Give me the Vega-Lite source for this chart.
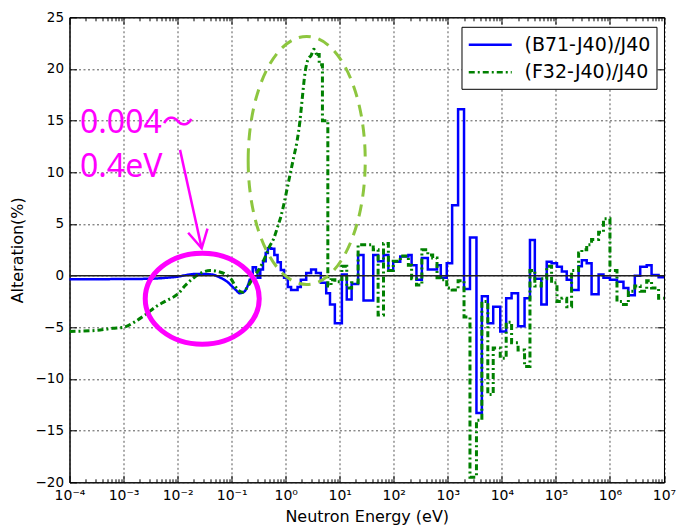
{
  "$schema": "https://vega.github.io/schema/vega-lite/v6.json",
  "width": 594.5,
  "height": 465,
  "autosize": {"type": "none"},
  "padding": {"left": 69.5, "top": 17.3, "right": 12, "bottom": 45},
  "background": "white",
  "config": {"font": "DejaVu Sans", "view": {"stroke": "black", "strokeWidth": 1}},
  "datasets": {
    "curves": [
      {"series": "(B71-J40)/J40", "E": 1e-4, "value": -0.35},
      {"series": "(B71-J40)/J40", "E": 1e-3, "value": -0.33},
      {"series": "(B71-J40)/J40", "E": 3.162e-3, "value": -0.3},
      {"series": "(B71-J40)/J40", "E": 6.31e-3, "value": -0.2},
      {"series": "(B71-J40)/J40", "E": 0.01, "value": -0.1},
      {"series": "(B71-J40)/J40", "E": 0.01413, "value": 0.05},
      {"series": "(B71-J40)/J40", "E": 0.01995, "value": 0.15},
      {"series": "(B71-J40)/J40", "E": 0.03162, "value": 0.15},
      {"series": "(B71-J40)/J40", "E": 0.04467, "value": 0.1},
      {"series": "(B71-J40)/J40", "E": 0.05623, "value": -0.1},
      {"series": "(B71-J40)/J40", "E": 0.06761, "value": -0.3},
      {"series": "(B71-J40)/J40", "E": 0.08318, "value": -0.6},
      {"series": "(B71-J40)/J40", "E": 0.1, "value": -1.0},
      {"series": "(B71-J40)/J40", "E": 0.1202, "value": -1.4},
      {"series": "(B71-J40)/J40", "E": 0.1413, "value": -1.7},
      {"series": "(B71-J40)/J40", "E": 0.166, "value": -1.6},
      {"series": "(B71-J40)/J40", "E": 0.1905, "value": -1.2},
      {"series": "(B71-J40)/J40", "E": 0.2188, "value": -0.3},
      {"series": "(B71-J40)/J40", "E": 0.2455, "value": 0.8},
      {"series": "(B71-J40)/J40", "E": 0.2818, "value": 0.5},
      {"series": "(B71-J40)/J40", "E": 0.302, "value": -0.2},
      {"series": "(B71-J40)/J40", "E": 0.3388, "value": 0.6},
      {"series": "(B71-J40)/J40", "E": 0.3802, "value": 1.4},
      {"series": "(B71-J40)/J40", "E": 0.4266, "value": 2.2},
      {"series": "(B71-J40)/J40", "E": 0.4677, "value": 2.65},
      {"series": "(B71-J40)/J40", "E": 0.537, "value": 2.6},
      {"series": "(B71-J40)/J40", "E": 0.6166, "value": 2.0},
      {"series": "(B71-J40)/J40", "E": 0.7079, "value": 1.3},
      {"series": "(B71-J40)/J40", "E": 0.8128, "value": 0.55},
      {"series": "(B71-J40)/J40", "E": 0.9333, "value": -0.2},
      {"series": "(B71-J40)/J40", "E": 1.096, "value": -1.1},
      {"series": "(B71-J40)/J40", "E": 1.259, "value": -1.4},
      {"series": "(B71-J40)/J40", "E": 1.66, "value": -1.1},
      {"series": "(B71-J40)/J40", "E": 1.905, "value": -0.4},
      {"series": "(B71-J40)/J40", "E": 2.399, "value": 0.25},
      {"series": "(B71-J40)/J40", "E": 2.951, "value": 0.6},
      {"series": "(B71-J40)/J40", "E": 3.631, "value": 0.25},
      {"series": "(B71-J40)/J40", "E": 4.467, "value": -0.7},
      {"series": "(B71-J40)/J40", "E": 5.623, "value": -1.7},
      {"series": "(B71-J40)/J40", "E": 6.607, "value": -2.8},
      {"series": "(B71-J40)/J40", "E": 8.128, "value": -4.6},
      {"series": "(B71-J40)/J40", "E": 10.96, "value": 0.1},
      {"series": "(B71-J40)/J40", "E": 13.49, "value": -2.3},
      {"series": "(B71-J40)/J40", "E": 16.6, "value": -0.8},
      {"series": "(B71-J40)/J40", "E": 21.88, "value": 2.0},
      {"series": "(B71-J40)/J40", "E": 27.54, "value": -2.4},
      {"series": "(B71-J40)/J40", "E": 41.69, "value": 2.0},
      {"series": "(B71-J40)/J40", "E": 51.29, "value": 1.4},
      {"series": "(B71-J40)/J40", "E": 64.57, "value": 2.0},
      {"series": "(B71-J40)/J40", "E": 79.43, "value": 0.5},
      {"series": "(B71-J40)/J40", "E": 97.72, "value": 1.35},
      {"series": "(B71-J40)/J40", "E": 131.8, "value": 1.85},
      {"series": "(B71-J40)/J40", "E": 186.2, "value": 2.0},
      {"series": "(B71-J40)/J40", "E": 213.8, "value": 1.0},
      {"series": "(B71-J40)/J40", "E": 263.0, "value": -0.4},
      {"series": "(B71-J40)/J40", "E": 331.1, "value": 1.7},
      {"series": "(B71-J40)/J40", "E": 426.6, "value": 0.6},
      {"series": "(B71-J40)/J40", "E": 631.0, "value": 1.0},
      {"series": "(B71-J40)/J40", "E": 741.3, "value": -0.2},
      {"series": "(B71-J40)/J40", "E": 955.0, "value": 1.2},
      {"series": "(B71-J40)/J40", "E": 1202, "value": 6.8},
      {"series": "(B71-J40)/J40", "E": 1549, "value": 16.1},
      {"series": "(B71-J40)/J40", "E": 1995, "value": -1.3},
      {"series": "(B71-J40)/J40", "E": 2570, "value": 3.7},
      {"series": "(B71-J40)/J40", "E": 3388, "value": -13.3},
      {"series": "(B71-J40)/J40", "E": 4266, "value": -2.0},
      {"series": "(B71-J40)/J40", "E": 5495, "value": -4.6},
      {"series": "(B71-J40)/J40", "E": 6918, "value": -3.0},
      {"series": "(B71-J40)/J40", "E": 9333, "value": -5.4},
      {"series": "(B71-J40)/J40", "E": 12020, "value": -2.2},
      {"series": "(B71-J40)/J40", "E": 15140, "value": -1.7},
      {"series": "(B71-J40)/J40", "E": 19950, "value": -4.9},
      {"series": "(B71-J40)/J40", "E": 26300, "value": -2.2},
      {"series": "(B71-J40)/J40", "E": 33110, "value": 3.45},
      {"series": "(B71-J40)/J40", "E": 40740, "value": -0.3},
      {"series": "(B71-J40)/J40", "E": 53700, "value": -2.8},
      {"series": "(B71-J40)/J40", "E": 67610, "value": 1.35},
      {"series": "(B71-J40)/J40", "E": 83180, "value": 1.2},
      {"series": "(B71-J40)/J40", "E": 104700, "value": 0.87},
      {"series": "(B71-J40)/J40", "E": 128800, "value": 0.4},
      {"series": "(B71-J40)/J40", "E": 158500, "value": -0.4},
      {"series": "(B71-J40)/J40", "E": 195000, "value": -1.4},
      {"series": "(B71-J40)/J40", "E": 263000, "value": 0.9},
      {"series": "(B71-J40)/J40", "E": 302000, "value": 1.5},
      {"series": "(B71-J40)/J40", "E": 371500, "value": 1.2},
      {"series": "(B71-J40)/J40", "E": 457100, "value": -1.8},
      {"series": "(B71-J40)/J40", "E": 616600, "value": 0.1},
      {"series": "(B71-J40)/J40", "E": 758600, "value": -0.2},
      {"series": "(B71-J40)/J40", "E": 1000000, "value": -0.4},
      {"series": "(B71-J40)/J40", "E": 1349000, "value": -0.6},
      {"series": "(B71-J40)/J40", "E": 1778000, "value": -1.2},
      {"series": "(B71-J40)/J40", "E": 2188000, "value": -1.9},
      {"series": "(B71-J40)/J40", "E": 2884000, "value": 0.0},
      {"series": "(B71-J40)/J40", "E": 3631000, "value": 0.87},
      {"series": "(B71-J40)/J40", "E": 4786000, "value": 1.0},
      {"series": "(B71-J40)/J40", "E": 5888000, "value": 0.07},
      {"series": "(B71-J40)/J40", "E": 7943000, "value": -0.15},
      {"series": "(B71-J40)/J40", "E": 10000000, "value": -0.15},
      {"series": "(F32-J40)/J40", "E": 1e-4, "value": -5.4},
      {"series": "(F32-J40)/J40", "E": 3.162e-4, "value": -5.3},
      {"series": "(F32-J40)/J40", "E": 6.31e-4, "value": -5.1},
      {"series": "(F32-J40)/J40", "E": 1e-3, "value": -5.0},
      {"series": "(F32-J40)/J40", "E": 1.585e-3, "value": -4.5},
      {"series": "(F32-J40)/J40", "E": 2.512e-3, "value": -3.8},
      {"series": "(F32-J40)/J40", "E": 3.981e-3, "value": -3.0},
      {"series": "(F32-J40)/J40", "E": 6.31e-3, "value": -2.4},
      {"series": "(F32-J40)/J40", "E": 0.01, "value": -1.8},
      {"series": "(F32-J40)/J40", "E": 0.01413, "value": -0.9},
      {"series": "(F32-J40)/J40", "E": 0.01995, "value": -0.2},
      {"series": "(F32-J40)/J40", "E": 0.02818, "value": 0.3},
      {"series": "(F32-J40)/J40", "E": 0.03981, "value": 0.5},
      {"series": "(F32-J40)/J40", "E": 0.05623, "value": 0.4},
      {"series": "(F32-J40)/J40", "E": 0.07586, "value": 0.15},
      {"series": "(F32-J40)/J40", "E": 0.1, "value": -0.4},
      {"series": "(F32-J40)/J40", "E": 0.1259, "value": -1.3},
      {"series": "(F32-J40)/J40", "E": 0.1585, "value": -1.6},
      {"series": "(F32-J40)/J40", "E": 0.1905, "value": -1.2},
      {"series": "(F32-J40)/J40", "E": 0.2188, "value": -0.7},
      {"series": "(F32-J40)/J40", "E": 0.2512, "value": -0.2},
      {"series": "(F32-J40)/J40", "E": 0.302, "value": 0.4},
      {"series": "(F32-J40)/J40", "E": 0.3548, "value": 1.0},
      {"series": "(F32-J40)/J40", "E": 0.4169, "value": 1.8},
      {"series": "(F32-J40)/J40", "E": 0.5012, "value": 2.8},
      {"series": "(F32-J40)/J40", "E": 0.6026, "value": 3.6},
      {"series": "(F32-J40)/J40", "E": 0.7079, "value": 4.7},
      {"series": "(F32-J40)/J40", "E": 0.8128, "value": 5.7},
      {"series": "(F32-J40)/J40", "E": 0.9333, "value": 7.0},
      {"series": "(F32-J40)/J40", "E": 1.072, "value": 8.5},
      {"series": "(F32-J40)/J40", "E": 1.23, "value": 10.0},
      {"series": "(F32-J40)/J40", "E": 1.413, "value": 11.5},
      {"series": "(F32-J40)/J40", "E": 1.622, "value": 13.0},
      {"series": "(F32-J40)/J40", "E": 1.82, "value": 14.8},
      {"series": "(F32-J40)/J40", "E": 1.995, "value": 16.8},
      {"series": "(F32-J40)/J40", "E": 2.291, "value": 19.7},
      {"series": "(F32-J40)/J40", "E": 2.63, "value": 21.0},
      {"series": "(F32-J40)/J40", "E": 2.951, "value": 21.3},
      {"series": "(F32-J40)/J40", "E": 3.311, "value": 21.9},
      {"series": "(F32-J40)/J40", "E": 3.715, "value": 21.4},
      {"series": "(F32-J40)/J40", "E": 4.169, "value": 20.4},
      {"series": "(F32-J40)/J40", "E": 4.786, "value": 15.0},
      {"series": "(F32-J40)/J40", "E": 6.026, "value": -1.0},
      {"series": "(F32-J40)/J40", "E": 6.918, "value": -0.4},
      {"series": "(F32-J40)/J40", "E": 8.128, "value": -0.6},
      {"series": "(F32-J40)/J40", "E": 10.96, "value": 0.9},
      {"series": "(F32-J40)/J40", "E": 13.49, "value": -1.2},
      {"series": "(F32-J40)/J40", "E": 16.6, "value": -0.7},
      {"series": "(F32-J40)/J40", "E": 21.88, "value": 3.0},
      {"series": "(F32-J40)/J40", "E": 41.69, "value": 2.5},
      {"series": "(F32-J40)/J40", "E": 51.29, "value": -3.8},
      {"series": "(F32-J40)/J40", "E": 64.57, "value": 3.1},
      {"series": "(F32-J40)/J40", "E": 79.43, "value": 0.5},
      {"series": "(F32-J40)/J40", "E": 97.72, "value": 1.4},
      {"series": "(F32-J40)/J40", "E": 131.8, "value": 1.9},
      {"series": "(F32-J40)/J40", "E": 186.2, "value": 1.0},
      {"series": "(F32-J40)/J40", "E": 213.8, "value": -0.3},
      {"series": "(F32-J40)/J40", "E": 263.0, "value": -0.9},
      {"series": "(F32-J40)/J40", "E": 331.1, "value": 2.5},
      {"series": "(F32-J40)/J40", "E": 426.6, "value": 2.0},
      {"series": "(F32-J40)/J40", "E": 524.8, "value": 1.7},
      {"series": "(F32-J40)/J40", "E": 631.0, "value": -0.2},
      {"series": "(F32-J40)/J40", "E": 741.3, "value": -0.4},
      {"series": "(F32-J40)/J40", "E": 955.0, "value": -1.2},
      {"series": "(F32-J40)/J40", "E": 1202, "value": -1.4},
      {"series": "(F32-J40)/J40", "E": 1549, "value": -0.5},
      {"series": "(F32-J40)/J40", "E": 1995, "value": -4.0},
      {"series": "(F32-J40)/J40", "E": 2570, "value": -19.5},
      {"series": "(F32-J40)/J40", "E": 3388, "value": -14.0},
      {"series": "(F32-J40)/J40", "E": 4266, "value": -2.5},
      {"series": "(F32-J40)/J40", "E": 5495, "value": -11.5},
      {"series": "(F32-J40)/J40", "E": 6918, "value": -7.0},
      {"series": "(F32-J40)/J40", "E": 9333, "value": -8.0},
      {"series": "(F32-J40)/J40", "E": 12020, "value": -4.5},
      {"series": "(F32-J40)/J40", "E": 15140, "value": -6.5},
      {"series": "(F32-J40)/J40", "E": 19950, "value": -7.2},
      {"series": "(F32-J40)/J40", "E": 26300, "value": -8.8},
      {"series": "(F32-J40)/J40", "E": 33110, "value": 0.5},
      {"series": "(F32-J40)/J40", "E": 40740, "value": -1.0},
      {"series": "(F32-J40)/J40", "E": 53700, "value": -0.3},
      {"series": "(F32-J40)/J40", "E": 67610, "value": 0.9},
      {"series": "(F32-J40)/J40", "E": 83180, "value": -0.7},
      {"series": "(F32-J40)/J40", "E": 104700, "value": -2.5},
      {"series": "(F32-J40)/J40", "E": 128800, "value": -2.2},
      {"series": "(F32-J40)/J40", "E": 158500, "value": -3.0},
      {"series": "(F32-J40)/J40", "E": 195000, "value": 0.5},
      {"series": "(F32-J40)/J40", "E": 263000, "value": 2.2},
      {"series": "(F32-J40)/J40", "E": 302000, "value": 2.5},
      {"series": "(F32-J40)/J40", "E": 371500, "value": 3.0},
      {"series": "(F32-J40)/J40", "E": 457100, "value": 3.5},
      {"series": "(F32-J40)/J40", "E": 616600, "value": 4.2},
      {"series": "(F32-J40)/J40", "E": 758600, "value": 5.5},
      {"series": "(F32-J40)/J40", "E": 1000000, "value": 0.5},
      {"series": "(F32-J40)/J40", "E": 1349000, "value": -2.5},
      {"series": "(F32-J40)/J40", "E": 1778000, "value": -2.8},
      {"series": "(F32-J40)/J40", "E": 2188000, "value": -1.5},
      {"series": "(F32-J40)/J40", "E": 2884000, "value": -1.0},
      {"series": "(F32-J40)/J40", "E": 3631000, "value": -1.5},
      {"series": "(F32-J40)/J40", "E": 4786000, "value": -0.5},
      {"series": "(F32-J40)/J40", "E": 5888000, "value": -1.2},
      {"series": "(F32-J40)/J40", "E": 7943000, "value": -2.2},
      {"series": "(F32-J40)/J40", "E": 10000000, "value": -2.2}
    ]
  },
  "resolve": {"axis": {"x": "independent", "y": "independent"}},
  "layer": [
    {
      "data": {"name": "curves"},
      "transform": [{"filter": "datum.series == '(B71-J40)/J40' && datum.E <= 0.2188"}],
      "mark": {"type": "line", "interpolate": "monotone", "strokeWidth": 2.5},
      "encoding": {
        "x": {"field": "E", "type": "quantitative",
          "scale": {"type": "log", "domain": [1e-4, 1e7], "nice": false},
          "axis": {
            "orient": "bottom",
            "values": [1e-4,2e-4,3e-4,4e-4,5e-4,6e-4,7e-4,8e-4,9e-4,1e-3,2e-3,3e-3,4e-3,5e-3,6e-3,7e-3,8e-3,9e-3,0.01,0.02,0.03,0.04,0.05,0.06,0.07,0.08,0.09,0.1,0.2,0.3,0.4,0.5,0.6,0.7,0.8,0.9,1,2,3,4,5,6,7,8,9,10,20,30,40,50,60,70,80,90,100,200,300,400,500,600,700,800,900,1000,2000,3000,4000,5000,6000,7000,8000,9000,10000,20000,30000,40000,50000,60000,70000,80000,90000,100000,200000,300000,400000,500000,600000,700000,800000,900000,1000000,2000000,3000000,4000000,5000000,6000000,7000000,8000000,9000000,10000000],
            "labelExpr": "abs(log(datum.value)/LN10 - round(log(datum.value)/LN10)) < 0.001 ? '10' + (round(log(datum.value)/LN10) < 0 ? '⁻' : '') + ['⁰','¹','²','³','⁴','⁵','⁶','⁷','⁸','⁹'][abs(round(log(datum.value)/LN10))] : ''",
            "labelFlush": false,
            "labelOverlap": false,
            "labelFont": "DejaVu Sans",
            "labelFontSize": 14,
            "labelColor": "black",
            "labelPadding": 13,
            "tickSize": {"condition": {"test": "abs(log(datum.value)/LN10 - round(log(datum.value)/LN10)) < 0.001", "value": -7}, "value": -3.5},
            "tickColor": "black",
            "grid": true,
            "gridOpacity": {"condition": {"test": "abs(log(datum.value)/LN10 - round(log(datum.value)/LN10)) < 0.001", "value": 1}, "value": 0},
            "gridDash": [2, 2.5],
            "gridColor": "#555555",
            "domainColor": "black",
            "title": "Neutron Energy (eV)",
            "titleFont": "DejaVu Sans",
            "titleFontSize": 16,
            "titleFontWeight": "normal",
            "titleColor": "black",
            "titlePadding": 3
          }
        },
        "y": {"field": "value", "type": "quantitative",
          "scale": {"domain": [-20, 25], "nice": false, "zero": false},
          "axis": {
            "orient": "left",
            "values": [-20,-15,-10,-5,0,5,10,15,20,25],
            "labelFont": "DejaVu Sans",
            "labelFontSize": 13.5,
            "labelColor": "black",
            "labelPadding": 13,
            "tickSize": -7,
            "tickColor": "black",
            "grid": true,
            "gridDash": [2, 2.5],
            "gridColor": "#555555",
            "domainColor": "black",
            "title": "Alteration(%)",
            "titleFont": "DejaVu Sans",
            "titleFontSize": 16,
            "titleFontWeight": "normal",
            "titleColor": "black",
            "titlePadding": 10
          }
        },
        "color": {"field": "series", "type": "nominal",
          "scale": {"domain": ["(B71-J40)/J40", "(F32-J40)/J40"], "range": ["#0000ff", "#008000"]},
          "legend": {"title": null, "orient": "none", "legendX": 392, "legendY": 9.5, "strokeColor": "black", "fillColor": "white", "padding": 6, "symbolType": "M-1,0H3", "symbolSize": 462, "symbolStrokeWidth": 2.5, "labelFont": "DejaVu Sans", "labelFontSize": 19, "labelColor": "black", "labelOffset": 33, "rowPadding": 5.5, "labelLimit": 400}
        },
        "strokeDash": {"field": "series", "type": "nominal",
          "scale": {"domain": ["(B71-J40)/J40", "(F32-J40)/J40"], "range": [[1, 0], [6, 3, 2, 3]]},
          "legend": {"title": null, "orient": "none", "legendX": 392, "legendY": 9.5, "strokeColor": "black", "fillColor": "white", "padding": 6, "symbolType": "M-1,0H3", "symbolSize": 462, "symbolStrokeWidth": 2.5, "labelFont": "DejaVu Sans", "labelFontSize": 19, "labelColor": "black", "labelOffset": 33, "rowPadding": 5.5, "labelLimit": 400}
        }
      }
    },
    {
      "data": {"name": "curves"},
      "transform": [{"filter": "datum.series == '(B71-J40)/J40' && datum.E >= 0.2188"}],
      "mark": {"type": "line", "interpolate": "step-after", "strokeWidth": 2.5},
      "encoding": {
        "x": {"field": "E", "type": "quantitative",
          "scale": {"type": "log", "domain": [1e-4, 1e7], "nice": false},
          "axis": {
            "orient": "top",
            "values": [1e-4,2e-4,3e-4,4e-4,5e-4,6e-4,7e-4,8e-4,9e-4,1e-3,2e-3,3e-3,4e-3,5e-3,6e-3,7e-3,8e-3,9e-3,0.01,0.02,0.03,0.04,0.05,0.06,0.07,0.08,0.09,0.1,0.2,0.3,0.4,0.5,0.6,0.7,0.8,0.9,1,2,3,4,5,6,7,8,9,10,20,30,40,50,60,70,80,90,100,200,300,400,500,600,700,800,900,1000,2000,3000,4000,5000,6000,7000,8000,9000,10000,20000,30000,40000,50000,60000,70000,80000,90000,100000,200000,300000,400000,500000,600000,700000,800000,900000,1000000,2000000,3000000,4000000,5000000,6000000,7000000,8000000,9000000,10000000],
            "labels": false,
            "grid": false,
            "tickSize": {"condition": {"test": "abs(log(datum.value)/LN10 - round(log(datum.value)/LN10)) < 0.001", "value": -7}, "value": -3.5},
            "tickColor": "black",
            "domainColor": "black",
            "title": null
          }
        },
        "y": {"field": "value", "type": "quantitative",
          "scale": {"domain": [-20, 25], "nice": false, "zero": false},
          "axis": {
            "orient": "right",
            "values": [-20,-15,-10,-5,0,5,10,15,20,25],
            "labels": false,
            "grid": false,
            "tickSize": -7,
            "tickColor": "black",
            "domainColor": "black",
            "title": null
          }
        },
        "color": {"field": "series", "type": "nominal",
          "scale": {"domain": ["(B71-J40)/J40", "(F32-J40)/J40"], "range": ["#0000ff", "#008000"]}, "legend": null},
        "strokeDash": {"field": "series", "type": "nominal",
          "scale": {"domain": ["(B71-J40)/J40", "(F32-J40)/J40"], "range": [[1, 0], [6, 3, 2, 3]]}, "legend": null}
      }
    },
    {
      "data": {"name": "curves"},
      "transform": [{"filter": "datum.series == '(F32-J40)/J40' && datum.E <= 3.715"}],
      "mark": {"type": "line", "interpolate": "monotone", "strokeWidth": 3},
      "encoding": {
        "x": {"field": "E", "type": "quantitative", "scale": {"type": "log", "domain": [1e-4, 1e7], "nice": false}, "axis": null},
        "y": {"field": "value", "type": "quantitative", "scale": {"domain": [-20, 25], "nice": false, "zero": false}, "axis": null},
        "color": {"field": "series", "type": "nominal",
          "scale": {"domain": ["(B71-J40)/J40", "(F32-J40)/J40"], "range": ["#0000ff", "#008000"]}, "legend": null},
        "strokeDash": {"field": "series", "type": "nominal",
          "scale": {"domain": ["(B71-J40)/J40", "(F32-J40)/J40"], "range": [[1, 0], [6, 3, 2, 3]]}, "legend": null}
      }
    },
    {
      "data": {"name": "curves"},
      "transform": [{"filter": "datum.series == '(F32-J40)/J40' && datum.E >= 3.715"}],
      "mark": {"type": "line", "interpolate": "step-after", "strokeWidth": 3},
      "encoding": {
        "x": {"field": "E", "type": "quantitative", "scale": {"type": "log", "domain": [1e-4, 1e7], "nice": false}, "axis": null},
        "y": {"field": "value", "type": "quantitative", "scale": {"domain": [-20, 25], "nice": false, "zero": false}, "axis": null},
        "color": {"field": "series", "type": "nominal",
          "scale": {"domain": ["(B71-J40)/J40", "(F32-J40)/J40"], "range": ["#0000ff", "#008000"]}, "legend": null},
        "strokeDash": {"field": "series", "type": "nominal",
          "scale": {"domain": ["(B71-J40)/J40", "(F32-J40)/J40"], "range": [[1, 0], [6, 3, 2, 3]]}, "legend": null}
      }
    },
    {
      "data": {"values": [{"level": 0}]},
      "mark": {"type": "rule", "color": "#222222", "strokeWidth": 1.5},
      "encoding": {
        "y": {"field": "level", "type": "quantitative", "scale": {"domain": [-20, 25], "nice": false, "zero": false}, "axis": null}
      }
    },
    {
      "data": {"values": [{"E": 0.02857, "value": -2.23}]},
      "mark": {"type": "point", "shape": "M-1,0A1,0.798,0,1,1,1,0A1,0.798,0,1,1,-1,0Z", "size": 12996, "filled": false, "stroke": "#ff00ff", "strokeWidth": 5, "opacity": 1},
      "encoding": {
        "x": {"field": "E", "type": "quantitative", "scale": {"type": "log", "domain": [1e-4, 1e7], "nice": false}, "axis": null},
        "y": {"field": "value", "type": "quantitative", "scale": {"domain": [-20, 25], "nice": false, "zero": false}, "axis": null}
      }
    },
    {
      "data": {"values": [{"E": 2.449, "value": 11.15}]},
      "mark": {"type": "point", "shape": "M-0.472,0A0.472,1,0,1,1,0.472,0A0.472,1,0,1,1,-0.472,0Z", "size": 61504, "filled": false, "stroke": "#8dc63f", "strokeWidth": 3, "strokeDash": [12, 8], "opacity": 1},
      "encoding": {
        "x": {"field": "E", "type": "quantitative", "scale": {"type": "log", "domain": [1e-4, 1e7], "nice": false}, "axis": null},
        "y": {"field": "value", "type": "quantitative", "scale": {"domain": [-20, 25], "nice": false, "zero": false}, "axis": null}
      }
    },
    {
      "data": {"values": [{"E": 0.01109, "value": 12.17, "E2": 0.02793, "value2": 2.65}]},
      "mark": {"type": "rule", "color": "#ff00ff", "strokeWidth": 2.5},
      "encoding": {
        "x": {"field": "E", "type": "quantitative", "scale": {"type": "log", "domain": [1e-4, 1e7], "nice": false}, "axis": null},
        "x2": {"field": "E2"},
        "y": {"field": "value", "type": "quantitative", "scale": {"domain": [-20, 25], "nice": false, "zero": false}, "axis": null},
        "y2": {"field": "value2"}
      }
    },
    {
      "data": {"values": [{"E": 0.02793, "value": 2.65}]},
      "mark": {"type": "point", "shape": "M-0.55,-1L0,0L0.55,-1", "size": 1296, "angle": 347.6, "filled": false, "stroke": "#ff00ff", "strokeWidth": 2.5, "opacity": 1},
      "encoding": {
        "x": {"field": "E", "type": "quantitative", "scale": {"type": "log", "domain": [1e-4, 1e7], "nice": false}, "axis": null},
        "y": {"field": "value", "type": "quantitative", "scale": {"domain": [-20, 25], "nice": false, "zero": false}, "axis": null}
      }
    },
    {
      "data": {"values": [{"E": 1.563e-4, "value": 13.79, "label": "0.004〜\n0.4eV"}]},
      "mark": {"type": "text", "align": "left", "baseline": "alphabetic", "lineBreak": "\n", "lineHeight": 43.4, "font": "Noto Sans, Noto Sans CJK JP", "fontSize": 32, "color": "#ff00ff"},
      "encoding": {
        "x": {"field": "E", "type": "quantitative", "scale": {"type": "log", "domain": [1e-4, 1e7], "nice": false}, "axis": null},
        "y": {"field": "value", "type": "quantitative", "scale": {"domain": [-20, 25], "nice": false, "zero": false}, "axis": null},
        "text": {"field": "label"}
      }
    }
  ]
}
